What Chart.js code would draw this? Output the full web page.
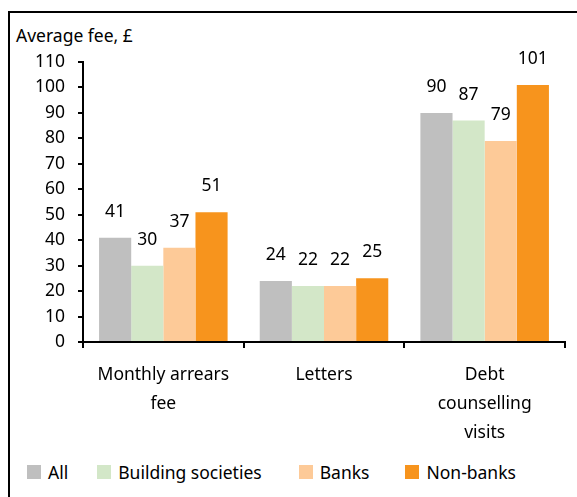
<!DOCTYPE html>
<html>
<head>
<meta charset="utf-8">
<script src="https://cdn.jsdelivr.net/npm/chart.js@4"></script>
<style>
  html, body { margin: 0; padding: 0; background: #fff; }
  body { width: 577px; height: 497px; position: relative; overflow: hidden; font-family: "Noto Sans", sans-serif; }
  .frame { position: absolute; left: 8px; top: 11px; width: 600px; height: 520px; border: 2px solid #000; box-sizing: border-box; }
  .title { position: absolute; left: 16px; top: 23px; font-size: 17.5px; color: #000; }
  .wrap { position: absolute; left: 0; top: 0; width: 577px; height: 448px; }
  .legend { position: absolute; left: 27px; top: 460px; display: flex; align-items: center; font-size: 17.5px; color: #000; }
  .legend span.item { display: flex; align-items: center; }
  .legend i { display: inline-block; width: 14px; height: 14px; margin-right: 7px; }
</style>
</head>
<body>
<div class="frame"></div>
<div class="title">Average fee, £</div>
<div class="wrap"><canvas id="chart"></canvas></div>
<div class="legend" id="legend"></div>
<script>
  const categories = [["Monthly arrears", "fee"], ["Letters"], ["Debt", "counselling", "visits"]];
  const seriesNames = ["All", "Building societies", "Banks", "Non-banks"];
  const allValues = [41, 24, 90];
  const buildingValues = [30, 22, 87];
  const bankValues = [37, 22, 79];
  const nonBankValues = [51, 25, 101];
  const yTicks = { min: 0, max: 110, step: 10 };

  const colors = ["#bfbfbf", "#d3e7c8", "#fdca98", "#f7941d"];
  const legendGaps = [29, 37, 36, 0];
  const font = "Noto Sans";

  // draw the value above each bar
  const valueLabels = {
    id: "valueLabels",
    afterDatasetsDraw(chart) {
      const ctx = chart.ctx;
      ctx.save();
      ctx.font = "17.5px '" + font + "'";
      ctx.fillStyle = "#000";
      ctx.textAlign = "center";
      ctx.textBaseline = "middle";
      chart.data.datasets.forEach((ds, i) => {
        chart.getDatasetMeta(i).data.forEach((bar, j) => {
          ctx.fillText(String(ds.data[j]), bar.x, bar.y - 26);
        });
      });
      ctx.restore();
    },
  };

  const seriesData = [allValues, buildingValues, bankValues, nonBankValues];

  new Chart(document.getElementById("chart"), {
    type: "bar",
    data: {
      labels: categories,
      datasets: seriesNames.map((name, i) => ({
        label: name,
        data: seriesData[i],
        backgroundColor: colors[i],
        borderWidth: 0,
        categoryPercentage: 0.8,
        barPercentage: 1.0,
      })),
    },
    options: {
      responsive: true,
      maintainAspectRatio: false,
      animation: false,
      layout: { padding: { top: 62, right: 12, left: 0, bottom: 0 } },
      plugins: {
        legend: { display: false },
        tooltip: { enabled: false },
      },
      scales: {
        x: {
          grid: {
            offset: true,
            drawOnChartArea: false,
            drawTicks: true,
            tickLength: 6,
            color: "#000",
            lineWidth: 2,
          },
          border: { display: true, color: "#000", width: 2 },
          ticks: {
            color: "#000",
            padding: 13,
            font: { family: font, size: 17.5, lineHeight: 1.64 },
            maxRotation: 0,
            autoSkip: false,
          },
          afterFit(scale) { scale.height = 448 - 342; },
        },
        y: {
          min: yTicks.min,
          max: yTicks.max,
          grid: {
            drawOnChartArea: false,
            drawTicks: true,
            tickLength: 5,
            color: "#000",
            lineWidth: 2,
          },
          border: { display: true, color: "#000", width: 2 },
          ticks: {
            stepSize: yTicks.step,
            color: "#000",
            padding: 13,
            font: { family: font, size: 17.5 },
          },
          afterFit(scale) { scale.width = 83; },
        },
      },
    },
    plugins: [valueLabels],
  });

  const legend = document.getElementById("legend");
  seriesNames.forEach((name, i) => {
    const item = document.createElement("span");
    item.className = "item";
    item.style.marginRight = legendGaps[i] + "px";
    const box = document.createElement("i");
    box.style.background = colors[i];
    item.appendChild(box);
    item.appendChild(document.createTextNode(name));
    legend.appendChild(item);
  });
</script>
</body>
</html>
